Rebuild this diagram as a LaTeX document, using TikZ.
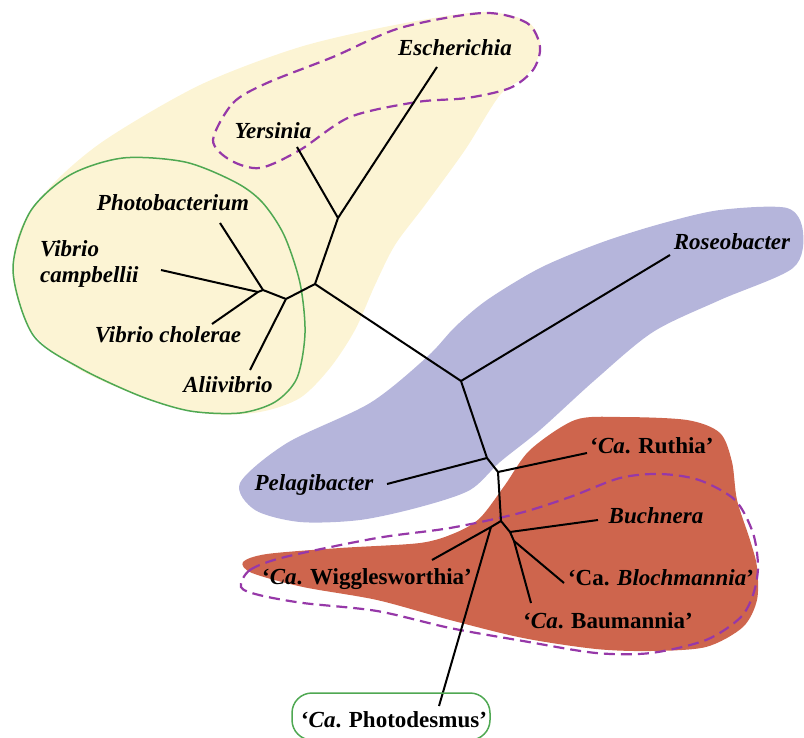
\documentclass[tikz,border=0pt]{standalone}
\usepackage{fontspec}
\setmainfont{Liberation Serif}
\definecolor{cladeyellow}{HTML}{FCF4D4}
\definecolor{cladeblue}{HTML}{B5B5DB}
\definecolor{cladered}{HTML}{CE654D}
\definecolor{ringgreen}{HTML}{4FA852}
\definecolor{ringpurple}{HTML}{9638A8}

\begin{document}
\begin{tikzpicture}[
  x=1pt, y=-1pt,
  branch/.style={draw=black, line width=2pt},
  taxon/.style={font=\fontsize{23}{26}\selectfont\bfseries, anchor=base, inner sep=0pt},
  itaxon/.style={taxon, font=\fontsize{23}{26}\selectfont\bfseries\itshape},
  ring/.style={draw=ringgreen, line width=1.5pt},
  dashring/.style={draw=ringpurple, line width=2.2pt, dash pattern=on 11pt off 6pt},
]
\useasboundingbox (0,0) rectangle (804,738);

% Clade backgrounds
\fill[cladeyellow] plot[smooth cycle] coordinates {
  (400,24) (483,12) (528,22) (541,48) (527,75) (500,95) (465,150) (425,205)
  (395,245) (375,285) (355,330) (330,368) (300,398) (260,412) (210,414)
  (150,400) (80,370) (33,333) (13,280) (20,230) (52,185) (105,140) (200,85) (300,47)};
\fill[cladeblue] plot[smooth cycle] coordinates {
  (240,483) (287,443) (370,403) (427,357) (455,327) (487,300) (540,268)
  (600,243) (660,224) (720,210) (787,208) (803,232) (793,268) (720,300)
  (653,332) (595,380) (540,430) (500,462) (470,490) (420,507) (360,520)
  (300,522) (255,510)};
\fill[cladered] plot[smooth cycle] coordinates {
  (575,420) (620,417) (687,420) (720,433) (732,462) (737,500) (750,540)
  (757,567) (757,600) (743,627) (706,647) (651,651) (596,649) (523,638)
  (450,620) (377,600) (303,587) (252,573) (243,562) (267,554) (340,548)
  (420,543) (455,533) (480,518) (505,485) (530,450)};

% Outlines
\draw[ring] plot[smooth cycle] coordinates {
  (13,270) (30,212) (70,175) (123,158) (185,162) (235,182) (262,202)
  (284,235) (300,283) (305,333) (297,378) (275,402) (240,413) (190,411)
  (140,396) (80,368) (33,335)};
\draw[dashring] plot[smooth cycle] coordinates {
  (213,140) (233,103) (267,83) (333,57) (400,28) (483,13) (527,23) (540,47)
  (533,70) (510,88) (467,98) (417,102) (350,117) (300,150) (260,168) (230,160)};
\draw[dashring] plot[smooth cycle] coordinates {
  (241,587) (250,570) (285,557) (377,538) (450,528) (520,513) (570,497)
  (620,478) (660,474) (699,480) (735,500) (753,533) (758,567) (753,595)
  (740,618) (706,640) (651,653) (596,653) (523,641) (450,628) (377,611)
  (303,603) (259,595)};

% Internal nodes
\coordinate (root)  at (461,381);
\coordinate (gamma) at (315,284);
\coordinate (enter) at (338,218);
\coordinate (vibr)  at (286,299);
\coordinate (vibrA) at (263,290);
\coordinate (vibrB) at (258,292);
\coordinate (pela)  at (487,458);
\coordinate (ruth)  at (498,472);
\coordinate (symb)  at (501,521);
\coordinate (wigg)  at (491,527);
\coordinate (buch)  at (510,532);
\coordinate (bloch) at (514,541);

% Tips
\coordinate (tEsch)  at (437,67);
\coordinate (tYers)  at (297,147);
\coordinate (tPhoto) at (220,223);
\coordinate (tCamp)  at (161,270);
\coordinate (tChol)  at (212,324);
\coordinate (tAlii)  at (250,370);
\coordinate (tRose)  at (670,255);
\coordinate (tPela)  at (387,484);
\coordinate (tRuth)  at (587,453);
\coordinate (tBuch)  at (598,520);
\coordinate (tWigg)  at (432,560);
\coordinate (tBloch) at (564,583);
\coordinate (tBaum)  at (531,603);
\coordinate (tPhdm)  at (439,706);

% Branches
\draw[branch] (root) -- (tRose);
\draw[branch] (root) -- (gamma);
\draw[branch] (gamma) -- (enter);
\draw[branch] (enter) -- (tEsch);
\draw[branch] (enter) -- (tYers);
\draw[branch] (gamma) -- (vibr);
\draw[branch] (vibr) -- (tAlii);
\draw[branch] (vibr) -- (vibrA);
\draw[branch] (vibrA) -- (tPhoto);
\draw[branch] (vibrA) -- (vibrB);
\draw[branch] (vibrB) -- (tCamp);
\draw[branch] (vibrB) -- (tChol);
\draw[branch] (root) -- (pela);
\draw[branch] (pela) -- (tPela);
\draw[branch] (pela) -- (ruth);
\draw[branch] (ruth) -- (tRuth);
\draw[branch] (ruth) -- (symb);
\draw[branch] (symb) -- (wigg);
\draw[branch] (wigg) -- (tWigg);
\draw[branch] (wigg) -- (tPhdm);
\draw[branch] (symb) -- (buch);
\draw[branch] (buch) -- (tBuch);
\draw[branch] (buch) -- (bloch);
\draw[branch] (bloch) -- (tBloch);
\draw[branch] (bloch) -- (tBaum);

% Taxon labels
\node[itaxon] (lEsch)  at (455,56)  {Escherichia};
\node[itaxon] (lYers)  at (273,139) {Yersinia};
\node[itaxon] (lPhoto) at (173,211) {Photobacterium};
\node[itaxon, anchor=base west] (lVib) at (40,257) {Vibrio};
\node[itaxon, anchor=base west] (lCamp) at (40,283) {campbellii};
\node[itaxon] (lChol)  at (168,342) {Vibrio cholerae};
\node[itaxon] (lAlii)  at (228,392) {Aliivibrio};
\node[itaxon] (lRose)  at (732,250) {Roseobacter};
\node[itaxon] (lPela)  at (314,490) {Pelagibacter};
\node[taxon]  (lRuth)  at (652,453) {‘\textit{Ca}. Ruthia’};
\node[itaxon] (lBuch)  at (656,523) {Buchnera};
\node[taxon]  (lWigg)  at (367,584) {‘\textit{Ca}. Wigglesworthia’};
\node[taxon]  (lBloch) at (661,585) {‘Ca. \textit{Blochmannia}’};
\node[taxon]  (lBaum)  at (608,628) {‘\textit{Ca}. Baumannia’};
\node[taxon]  (lPhdm)  at (394,727) {‘\textit{Ca}. Photodesmus’};

% Photodesmus ring
\draw[ring, rounded corners=20pt] (292,693) rectangle (490,740);

\end{tikzpicture}
\end{document}
